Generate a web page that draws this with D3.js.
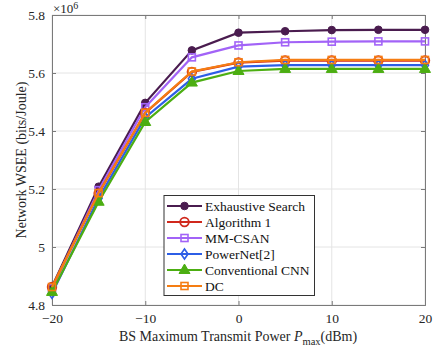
<!DOCTYPE html>
<html><head><meta charset="utf-8">
<script src="https://cdn.jsdelivr.net/npm/d3@7"></script>
<style>body{margin:0;background:#fff}svg{display:block;font-family:"Liberation Serif","Times New Roman",serif}</style>
</head><body>
<svg id="c" width="438" height="349"></svg>
<script>
const xs = [-20, -15, -10, -5, 0, 5, 10, 15, 20];
const exhaustive = [4.863, 5.208, 5.497, 5.678, 5.739, 5.744, 5.748, 5.749, 5.749];
const algorithm1 = [4.862, 5.185, 5.462, 5.604, 5.636, 5.643, 5.643, 5.643, 5.643];
const mmcsan = [4.858, 5.196, 5.482, 5.654, 5.695, 5.706, 5.708, 5.709, 5.709];
const powernet = [4.840, 5.168, 5.447, 5.580, 5.622, 5.627, 5.627, 5.627, 5.627];
const cnn = [4.845, 5.156, 5.431, 5.567, 5.607, 5.614, 5.614, 5.614, 5.614];
const dc = [4.862, 5.186, 5.463, 5.605, 5.637, 5.645, 5.645, 5.645, 5.645];
const xTicks = [-20, -10, 0, 10, 20];
const yTicks = [4.8, 5, 5.2, 5.4, 5.6, 5.8];
const seriesNames = ["Exhaustive Search", "Algorithm 1", "MM-CSAN", "PowerNet[2]", "Conventional CNN", "DC"];

const series = [
  {name: seriesNames[0], v: exhaustive, color: "#4a1c4f", marker: "dot"},
  {name: seriesNames[1], v: algorithm1, color: "#d0281c", marker: "circle"},
  {name: seriesNames[2], v: mmcsan, color: "#a263f7", marker: "square"},
  {name: seriesNames[3], v: powernet, color: "#2c5ee6", marker: "diamond"},
  {name: seriesNames[4], v: cnn, color: "#4cae12", marker: "triangle"},
  {name: seriesNames[5], v: dc, color: "#f57d12", marker: "square"}
];

const svg = d3.select("#c");
const L = 52, R = 425, T = 15, B = 305;
const x = d3.scaleLinear().domain([-20, 20]).range([L, R]);
const y = d3.scaleLinear().domain([4.8, 5.8]).range([B, T]);

// grid
const g = svg.append("g");
g.selectAll(".gx").data(xTicks).enter().append("line")
  .attr("x1", d => x(d)).attr("x2", d => x(d)).attr("y1", T).attr("y2", B)
  .attr("stroke", "#e4e4e4").attr("stroke-width", 1);
g.selectAll(".gy").data(yTicks).enter().append("line")
  .attr("y1", d => y(d)).attr("y2", d => y(d)).attr("x1", L).attr("x2", R)
  .attr("stroke", "#e4e4e4").attr("stroke-width", 1);

// axes
const ax = svg.append("g").attr("transform", `translate(0,${B})`)
  .call(d3.axisBottom(x).tickValues(xTicks).tickSize(-4).tickPadding(8).tickFormat(d3.format("d")));
const ay = svg.append("g").attr("transform", `translate(${L},0)`)
  .call(d3.axisLeft(y).tickValues(yTicks).tickSize(-4).tickPadding(7).tickFormat(d => d === 5 ? "5" : d3.format(".1f")(d)));
const axT = svg.append("g").attr("transform", `translate(0,${T})`)
  .call(d3.axisTop(x).tickValues(xTicks).tickSize(-4).tickFormat(""));
const ayR = svg.append("g").attr("transform", `translate(${R},0)`)
  .call(d3.axisRight(y).tickValues(yTicks).tickSize(-4).tickFormat(""));
[ax, ay, axT, ayR].forEach(a => {
  a.select(".domain").attr("stroke", "#7a7a7a").attr("stroke-width", 1);
  a.selectAll(".tick line").attr("stroke", "#7a7a7a");
  a.selectAll("text").attr("fill", "#262626").style("font-size", "13.5px").style("font-family", "Liberation Serif");
});

// multiplier
const mt = svg.append("text").attr("x", L + 1).attr("y", 13).attr("fill", "#262626")
  .style("font-size", "13px");
mt.append("tspan").text("\u00d710");
mt.append("tspan").attr("dy", -4).style("font-size", "10px").text("6");

// lines
const line = d3.line().x((d, i) => x(xs[i])).y(d => y(d));
function drawMarker(sel, type, color, cx, cy) {
  if (type === "dot") {
    sel.append("circle").attr("cx", cx).attr("cy", cy).attr("r", 3.8).attr("fill", color).attr("stroke", color);
  } else if (type === "circle") {
    sel.append("circle").attr("cx", cx).attr("cy", cy).attr("r", 4.3).attr("fill", "none").attr("stroke", color).attr("stroke-width", 1.8);
  } else if (type === "square") {
    sel.append("rect").attr("x", cx - 3.5).attr("y", cy - 3.5).attr("width", 7).attr("height", 7).attr("fill", "none").attr("stroke", color).attr("stroke-width", 1.6);
  } else if (type === "diamond") {
    sel.append("path").attr("d", `M${cx},${cy-5}L${cx+3.5},${cy}L${cx},${cy+5}L${cx-3.5},${cy}Z`).attr("fill", "none").attr("stroke", color).attr("stroke-width", 1.6);
  } else if (type === "triangle") {
    sel.append("path").attr("d", `M${cx},${cy-6}L${cx+5.5},${cy+3.5}L${cx-5.5},${cy+3.5}Z`).attr("fill", color).attr("stroke", color).attr("stroke-width", 1);
  }
}
const order = [0, 2, 1, 3, 4, 5];
order.forEach(si => {
  const s = series[si];
  const gg = svg.append("g");
  gg.append("path").attr("d", line(s.v)).attr("fill", "none").attr("stroke", s.color).attr("stroke-width", 2.2);
  s.v.forEach((v, i) => drawMarker(gg, s.marker, s.color, x(xs[i]), y(v)));
});

// legend
const lg = svg.append("g");
lg.append("rect").attr("x", 164).attr("y", 195.5).attr("width", 150.5).attr("height", 100)
  .attr("fill", "#fff").attr("stroke", "#333").attr("stroke-width", 1);
series.forEach((s, i) => {
  const yy = 206 + i * 16;
  lg.append("line").attr("x1", 167).attr("x2", 202).attr("y1", yy).attr("y2", yy).attr("stroke", s.color).attr("stroke-width", 2.2);
  drawMarker(lg, s.marker, s.color, 184.5, yy);
  lg.append("text").attr("x", 205).attr("y", yy + 4.5).attr("fill", "#111").style("font-size", "13.5px").text(s.name);
});

// axis labels
const xl = svg.append("text").attr("x", 238).attr("y", 341).attr("text-anchor", "middle").attr("fill", "#262626").style("font-size", "14px");
xl.append("tspan").text("BS Maximum Transmit Power  ");
xl.append("tspan").style("font-style", "italic").text("P");
xl.append("tspan").attr("dy", 4).style("font-size", "10.5px").text("max");
xl.append("tspan").attr("dy", -4).text("(dBm)");
svg.append("text").attr("transform", `translate(26,${(T + B) / 2}) rotate(-90)`).attr("text-anchor", "middle")
  .attr("fill", "#262626").style("font-size", "14px").text("Network WSEE (bits/Joule)");
</script>
</body></html>
